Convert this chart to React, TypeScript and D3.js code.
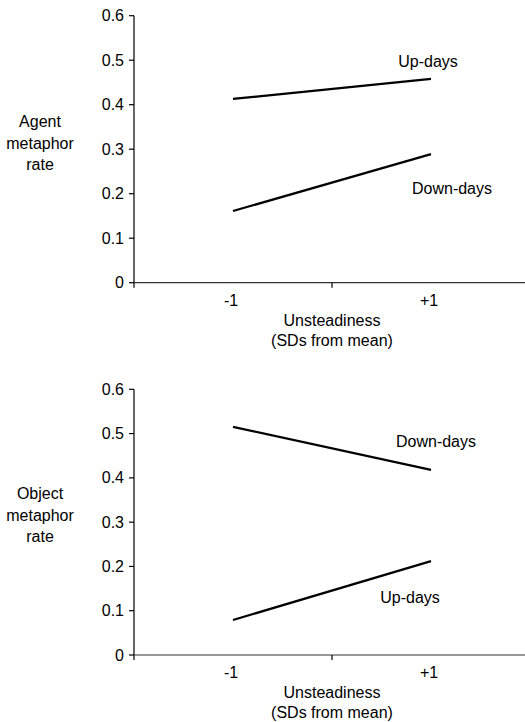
import * as d3 from 'd3';
import React from 'react';

// x categories (SDs from mean)
const categories = ['-1', '+1'];
const yTicks = [0, 0.1, 0.2, 0.3, 0.4, 0.5, 0.6];

// panel 1: agent metaphor rate
const agentUp = [0.413, 0.458];
const agentDown = [0.161, 0.289];
// panel 2: object metaphor rate
const objectDown = [0.515, 0.418];
const objectUp = [0.079, 0.212];

const FONT = '"Liberation Sans", Arial, sans-serif';
const FS = 16;

type Series = { name: string; values: number[]; labelValue: number; labelDx: number };

type PanelProps = {
  top: number;
  bottom: number;
  ylabel: string[];
  ylabelY: number;
  series: Series[];
};

function Panel({ top, bottom, ylabel, ylabelY, series }: PanelProps) {
  const gRef = React.useRef<SVGGElement>(null);

  React.useEffect(() => {
    if (gRef.current == null) return;
    const g = d3.select(gRef.current);
    g.selectAll('*').remove();

    const x = d3.scaleBand<string>().domain(categories).range([134, 530]).padding(0);
    const y = d3.scaleLinear().domain([0, 0.6]).range([bottom, top]);
    const cx = (c: string) => (x(c) ?? 0) + x.bandwidth() / 2;
    const axisX = x.range()[0];

    // y axis
    g.append('line')
      .attr('x1', axisX).attr('x2', axisX)
      .attr('y1', y(0.6)).attr('y2', y(0) + 5)
      .attr('stroke', '#000').attr('stroke-width', 1.2);
    yTicks.forEach((t) => {
      g.append('line')
        .attr('x1', axisX - 5).attr('x2', axisX)
        .attr('y1', y(t)).attr('y2', y(t))
        .attr('stroke', '#000').attr('stroke-width', 1.2);
      g.append('text')
        .attr('x', axisX - 10).attr('y', y(t) + 5.5)
        .attr('text-anchor', 'end')
        .style('font', `${FS}px ${FONT}`)
        .text(t === 0 ? '0' : d3.format('.1f')(t));
    });

    // x axis
    g.append('line')
      .attr('x1', axisX).attr('x2', 530)
      .attr('y1', y(0)).attr('y2', y(0))
      .attr('stroke', '#333').attr('stroke-width', 1.2);
    categories.forEach((c) => {
      const bx = (x(c) ?? 0) + x.bandwidth();
      g.append('line')
        .attr('x1', bx).attr('x2', bx)
        .attr('y1', y(0)).attr('y2', y(0) + 5)
        .attr('stroke', '#000').attr('stroke-width', 1.2);
      g.append('text')
        .attr('x', cx(c) - 2).attr('y', y(0) + 23)
        .attr('text-anchor', 'middle')
        .style('font', `${FS}px ${FONT}`)
        .text(c);
    });

    const xMid = (axisX + 530) / 2;
    g.append('text')
      .attr('x', xMid).attr('y', y(0) + 43)
      .attr('text-anchor', 'middle')
      .style('font', `${FS}px ${FONT}`)
      .text('Unsteadiness');
    g.append('text')
      .attr('x', xMid).attr('y', y(0) + 63)
      .attr('text-anchor', 'middle')
      .style('font', `${FS}px ${FONT}`)
      .text('(SDs from mean)');

    ylabel.forEach((s, i) => {
      g.append('text')
        .attr('x', 40).attr('y', ylabelY + i * 21.5)
        .attr('text-anchor', 'middle')
        .style('font', `${FS}px ${FONT}`)
        .text(s);
    });

    const line = d3
      .line<number>()
      .x((_, i) => cx(categories[i]))
      .y((d) => y(d));

    series.forEach((s) => {
      g.append('path')
        .attr('d', line(s.values))
        .attr('fill', 'none')
        .attr('stroke', '#000')
        .attr('stroke-width', 2.2);
      g.append('text')
        .attr('x', cx('+1') + s.labelDx).attr('y', y(s.labelValue))
        .attr('text-anchor', 'middle')
        .style('font', `${FS}px ${FONT}`)
        .text(s.name);
    });
  }, [top, bottom, ylabel, ylabelY, series]);

  return <g ref={gRef} />;
}

export default function App() {
  return (
    <svg
      width={525}
      height={722}
      style={{ position: 'absolute', left: 0, top: 0, background: '#fff' }}
    >
      <Panel
        top={15.7}
        bottom={282.7}
        ylabel={['Agent', 'metaphor', 'rate']}
        ylabelY={127}
        series={[
          { name: 'Up-days', values: agentUp, labelValue: 0.485, labelDx: -3 },
          { name: 'Down-days', values: agentDown, labelValue: 0.199, labelDx: 21 },
        ]}
      />
      <Panel
        top={389.3}
        bottom={655}
        ylabel={['Object', 'metaphor', 'rate']}
        ylabelY={499}
        series={[
          { name: 'Down-days', values: objectDown, labelValue: 0.47, labelDx: 5 },
          { name: 'Up-days', values: objectUp, labelValue: 0.117, labelDx: -21 },
        ]}
      />
    </svg>
  );
}
